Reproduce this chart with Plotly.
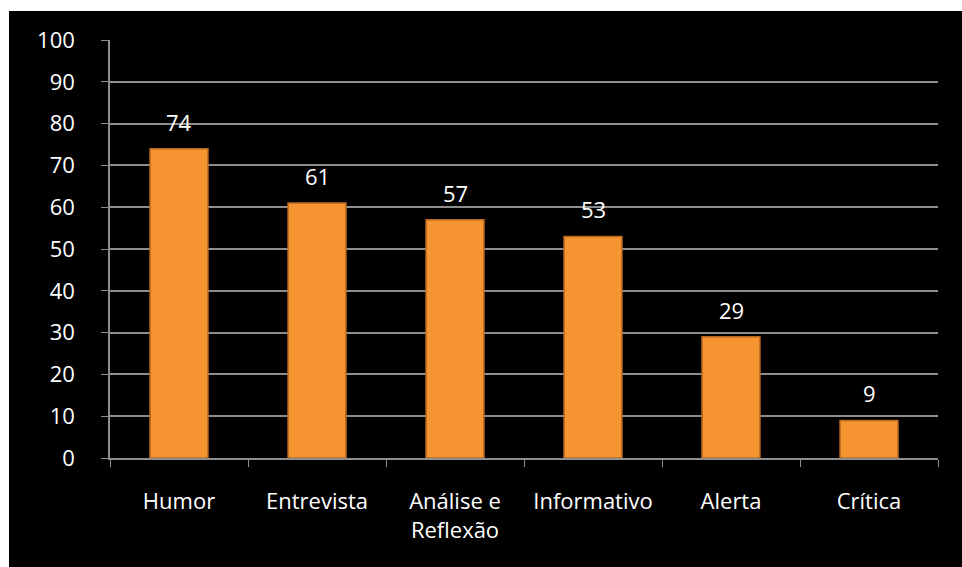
import plotly.graph_objects as go

# Categories and counts
categorias = ["Humor", "Entrevista", "Análise e<br>Reflexão", "Informativo", "Alerta", "Crítica"]
valores = [74, 61, 57, 53, 29, 9]
y_ticks = list(range(0, 101, 10))

FONT = "Open Sans, Noto Sans, sans-serif"
FS = 22

fig = go.Figure()
fig.add_trace(go.Bar(
    x=categorias,
    y=valores,
    marker=dict(color="#F59431", line=dict(color="#B8671F", width=1.5)),
    width=0.42,
))

# value labels above each bar
for cat, v in zip(categorias, valores):
    fig.add_annotation(x=cat, y=v, text=str(v), showarrow=False,
                       yanchor="bottom", yshift=10,
                       font=dict(color="white", size=FS, family=FONT))

fig.update_layout(
    width=962,
    height=567,
    paper_bgcolor="white",
    plot_bgcolor="#404040",
    margin=dict(l=110, r=24, t=40, b=109),
    showlegend=False,
    font=dict(family=FONT, color="white", size=FS),
    shapes=[dict(type="rect", xref="paper", yref="paper",
                 x0=-101 / 828, x1=1 + 24 / 828, y0=-109 / 418, y1=1 + 29 / 418,
                 fillcolor="black", line=dict(width=0), layer="below")],
)

fig.update_yaxes(
    range=[0, 100],
    tickvals=y_ticks,
    showgrid=True,
    gridcolor="#8E8E8E",
    gridwidth=1.5,
    showline=True,
    linecolor="#8E8E8E",
    linewidth=1.5,
    ticks="outside",
    ticklen=7,
    tickcolor="#8E8E8E",
    tickfont=dict(color="white", size=FS, family=FONT),
    ticklabelstandoff=22,
    zeroline=False,
)
fig.update_xaxes(
    showline=True,
    linecolor="#8E8E8E",
    linewidth=1.5,
    ticks="outside",
    tickson="boundaries",
    ticklen=7,
    tickcolor="#8E8E8E",
    tickfont=dict(color="white", size=FS, family=FONT),
    ticklabelstandoff=23,
    showgrid=False,
)

fig.write_html("out.html")
